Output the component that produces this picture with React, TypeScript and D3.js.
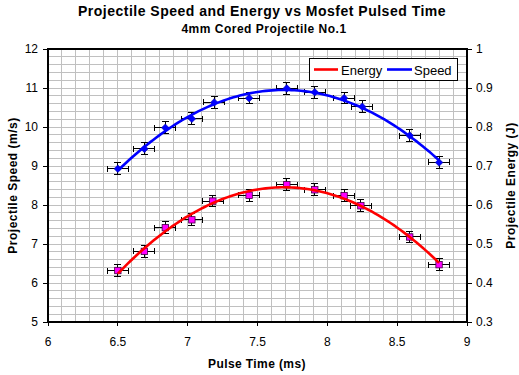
import * as d3 from 'd3'

const PULSE_TIME = [6.5, 6.69, 6.84, 7.03, 7.19, 7.44, 7.71, 7.91, 8.12, 8.25, 8.59, 8.8]
const SPEED = [8.93, 9.44, 9.98, 10.21, 10.63, 10.74, 10.99, 10.89, 10.74, 10.52, 9.78, 9.09]
const ENERGY_TIME = [6.5, 6.69, 6.84, 7.03, 7.18, 7.44, 7.71, 7.91, 8.12, 8.24, 8.59, 8.8]
const ENERGY = [0.432, 0.481, 0.542, 0.562, 0.61, 0.625, 0.652, 0.639, 0.624, 0.598, 0.518, 0.447]

const TIME_ERR = 0.075
const SPEED_ERR = 0.15
const ENERGY_ERR = 0.015

const X_TICKS = [6, 6.5, 7, 7.5, 8, 8.5, 9]
const SPEED_TICKS = [5, 6, 7, 8, 9, 10, 11, 12]
const ENERGY_TICKS = [0.3, 0.4, 0.5, 0.6, 0.7, 0.8, 0.9, 1]

const FONT = '"Liberation Sans", Arial, sans-serif'
const W = 519
const H = 375
const PLOT = { left: 48, right: 467, top: 49, bottom: 322 }

// least squares polynomial (Excel-style trendline, order 2)
function polyFit(xs: number[], ys: number[], order: number) {
  const n = order + 1
  const A: number[][] = Array.from({ length: n }, () => new Array(n + 1).fill(0))
  xs.forEach((x, k) => {
    for (let i = 0; i < n; i++) {
      for (let j = 0; j < n; j++) A[i][j] += Math.pow(x, i + j)
      A[i][n] += Math.pow(x, i) * ys[k]
    }
  })
  for (let i = 0; i < n; i++) {
    let p = i
    for (let r = i + 1; r < n; r++) if (Math.abs(A[r][i]) > Math.abs(A[p][i])) p = r
    ;[A[i], A[p]] = [A[p], A[i]]
    for (let r = 0; r < n; r++) {
      if (r === i) continue
      const f = A[r][i] / A[i][i]
      for (let c = i; c <= n; c++) A[r][c] -= f * A[i][c]
    }
  }
  const coef = A.map((row, i) => row[n] / row[i])
  return (x: number) => coef.reduce((s, c, i) => s + c * Math.pow(x, i), 0)
}

export default function App() {
  const x = d3.scaleLinear().domain([6, 9]).range([PLOT.left, PLOT.right])
  const yS = d3.scaleLinear().domain([5, 12]).range([PLOT.bottom, PLOT.top])
  const yE = d3.scaleLinear().domain([0.3, 1]).range([PLOT.bottom, PLOT.top])

  const vGrid = d3.range(1, 30).map(i => 6 + i * 0.1)
  const hGrid = d3.range(1, 35).map(i => 5 + i * 0.2)

  const speedFit = polyFit(PULSE_TIME, SPEED, 2)
  const energyFit = polyFit(ENERGY_TIME, ENERGY, 2)
  const xs = d3.range(0, 101).map(i => 6.5 + (8.8 - 6.5) * i / 100)

  const speedLine = d3.line<number>().x(t => x(t)).y(t => yS(speedFit(t)))(xs) || ''
  const energyLine = d3.line<number>().x(t => x(t)).y(t => yE(energyFit(t)))(xs) || ''

  const errBars = (tx: number[], vals: number[], y: d3.ScaleLinear<number, number>, err: number, key: string) =>
    tx.map((t, i) => {
      const cx = x(t), cy = y(vals[i])
      const x0 = x(t - TIME_ERR), x1 = x(t + TIME_ERR)
      const y0 = y(vals[i] - err), y1 = y(vals[i] + err)
      return (
        <g key={key + i} stroke="#000" strokeWidth={1} shapeRendering="crispEdges">
          <line x1={x0} x2={x1} y1={cy} y2={cy} />
          <line x1={x0} x2={x0} y1={cy - 3} y2={cy + 3} />
          <line x1={x1} x2={x1} y1={cy - 3} y2={cy + 3} />
          <line x1={cx} x2={cx} y1={y0} y2={y1} />
          <line x1={cx - 3.5} x2={cx + 3.5} y1={y0} y2={y0} />
          <line x1={cx - 3.5} x2={cx + 3.5} y1={y1} y2={y1} />
        </g>
      )
    })

  return (
    <div style={{ position: 'absolute', left: 0, top: 0 }}>
      <svg width={W} height={H} style={{ display: 'block', background: '#fff' }} fontFamily={FONT}>
        <rect x={0} y={0} width={W} height={H} fill="#fff" />

        {/* Titles */}
        <text x={262} y={16} textAnchor="middle" fontSize={14} fontWeight="bold" letterSpacing={0.5}>Projectile Speed and Energy vs Mosfet Pulsed Time</text>
        <text x={264} y={33} textAnchor="middle" fontSize={12} fontWeight="bold" letterSpacing={0.5}>4mm Cored Projectile No.1</text>

        {/* Grid */}
        <g stroke="#c0c0c0" strokeWidth={1} shapeRendering="crispEdges">
          {vGrid.map(t => <line key={'v' + t} x1={x(t)} x2={x(t)} y1={PLOT.top} y2={PLOT.bottom} />)}
          {hGrid.map(v => <line key={'h' + v} x1={PLOT.left} x2={PLOT.right} y1={yS(v)} y2={yS(v)} />)}
        </g>

        {/* Error bars */}
        {errBars(PULSE_TIME, SPEED, yS, SPEED_ERR, 's')}
        {errBars(ENERGY_TIME, ENERGY, yE, ENERGY_ERR, 'e')}

        {/* Markers */}
        {PULSE_TIME.map((t, i) => {
          const cx = x(t), cy = yS(SPEED[i]), r = 3.8
          return <polygon key={'d' + i} points={`${cx},${cy - r} ${cx + r},${cy} ${cx},${cy + r} ${cx - r},${cy}`} fill="#0000ff" stroke="#0000aa" strokeWidth={0.6} />
        })}
        {ENERGY_TIME.map((t, i) => (
          <rect key={'q' + i} x={x(t) - 3.2} y={yE(ENERGY[i]) - 3.2} width={6.4} height={6.4} fill="#ff00ff" stroke="#400040" strokeWidth={0.8} />
        ))}

        {/* Trendlines */}
        <path d={speedLine} fill="none" stroke="#0000ff" strokeWidth={2.6} />
        <path d={energyLine} fill="none" stroke="#ff0000" strokeWidth={2.6} />

        {/* Plot frame */}
        <rect x={PLOT.left} y={PLOT.top} width={PLOT.right - PLOT.left} height={PLOT.bottom - PLOT.top} fill="none" stroke="#000" strokeWidth={2} />

        {/* Bottom axis */}
        <g fontSize={12}>
          {X_TICKS.map(t => (
            <g key={'xt' + t}>
              <line x1={x(t)} x2={x(t)} y1={PLOT.bottom} y2={PLOT.bottom + 4} stroke="#000" strokeWidth={1} shapeRendering="crispEdges" />
              <text x={x(t)} y={346} textAnchor="middle">{String(t)}</text>
            </g>
          ))}
        </g>
        <text x={257} y={368} textAnchor="middle" fontSize={12} fontWeight="bold" letterSpacing={0.4}>Pulse Time (ms)</text>

        {/* Left axis */}
        <g fontSize={12}>
          {SPEED_TICKS.map(v => (
            <g key={'yl' + v}>
              <line x1={PLOT.left - 5} x2={PLOT.left} y1={yS(v)} y2={yS(v)} stroke="#000" strokeWidth={1} shapeRendering="crispEdges" />
              <text x={38} y={yS(v) + 4} textAnchor="end">{String(v)}</text>
            </g>
          ))}
        </g>
        <text transform={`translate(17,${(PLOT.top + PLOT.bottom) / 2}) rotate(-90)`} textAnchor="middle" fontSize={12} fontWeight="bold" letterSpacing={0.5}>Projectile Speed (m/s)</text>

        {/* Right axis */}
        <g fontSize={12}>
          {ENERGY_TICKS.map(v => (
            <g key={'yr' + v}>
              <line x1={PLOT.right} x2={PLOT.right + 5} y1={yE(v)} y2={yE(v)} stroke="#000" strokeWidth={1} shapeRendering="crispEdges" />
              <text x={476} y={yE(v) + 4} textAnchor="start">{String(v)}</text>
            </g>
          ))}
        </g>
        <text transform={`translate(515,${(PLOT.top + PLOT.bottom) / 2}) rotate(-90)`} textAnchor="middle" fontSize={12} fontWeight="bold" letterSpacing={0.5}>Projectile Energy (J)</text>

        {/* Legend */}
        <g>
          <rect x={309.5} y={58.5} width={148} height={22} fill="#fff" stroke="#000" strokeWidth={1} shapeRendering="crispEdges" />
          <line x1={314} x2={338} y1={69.5} y2={69.5} stroke="#ff0000" strokeWidth={2.6} />
          <text x={341} y={74.5} fontSize={13}>Energy</text>
          <line x1={387} x2={412} y1={69.5} y2={69.5} stroke="#0000ff" strokeWidth={2.6} />
          <text x={414} y={74.5} fontSize={13}>Speed</text>
        </g>
      </svg>
    </div>
  )
}
